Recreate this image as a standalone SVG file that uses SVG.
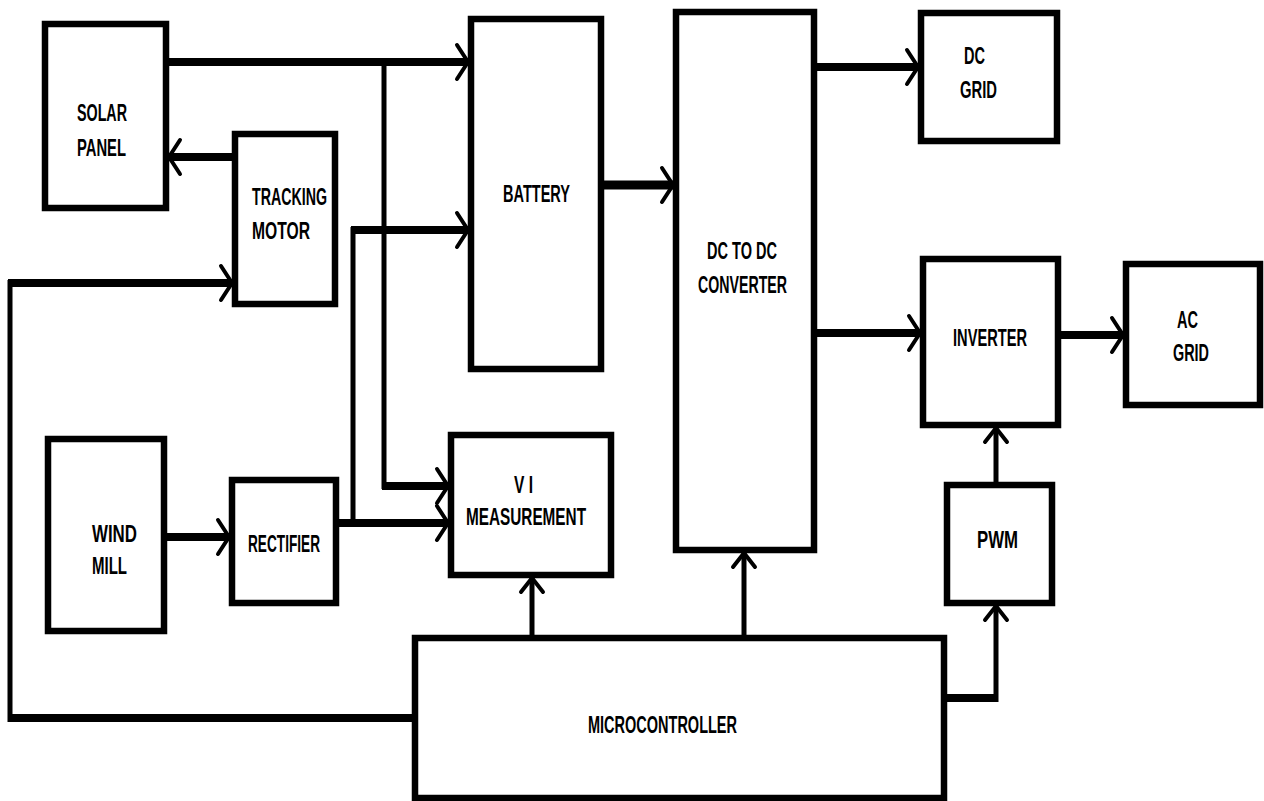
<svg xmlns="http://www.w3.org/2000/svg" width="1264" height="801" viewBox="0 0 1264 801">
<style>
.box{fill:#fff;stroke:#000;stroke-width:6.5}
.w{fill:none;stroke:#000;stroke-linecap:butt}
.t8{stroke-width:8}
.t5{stroke-width:5}
.lbl{font-family:"Liberation Sans",Arial,sans-serif;font-weight:bold;font-size:24px;fill:#000}
</style>
<defs>
<marker id="ah" markerUnits="userSpaceOnUse" orient="auto" markerWidth="40" markerHeight="40" refX="0" refY="0" viewBox="-20 -20 40 40" overflow="visible">
<path d="M-11,-17 L0,0 L-11,17" fill="none" stroke="#000" stroke-width="4" stroke-linecap="round" stroke-linejoin="miter"/>
</marker>
<marker id="av" markerUnits="userSpaceOnUse" orient="auto" markerWidth="40" markerHeight="40" refX="0" refY="0" viewBox="-20 -20 40 40" overflow="visible">
<path d="M-14,-11 L0,0 L-14,11" fill="none" stroke="#000" stroke-width="4" stroke-linecap="round" stroke-linejoin="miter"/>
</marker>
</defs>
<rect width="1264" height="801" fill="#fff"/>
<g id="connectors">
<line class="w t8" x1="169" y1="62" x2="468" y2="62" marker-end="url(#ah)"/>
<line class="w t8" x1="232" y1="157" x2="169" y2="157" marker-end="url(#ah)"/>
<line class="w t5" x1="384" y1="62" x2="384" y2="489"/>
<line class="w t8" x1="382" y1="486" x2="448" y2="486" marker-end="url(#ah)"/>
<line class="w t8" x1="339" y1="523" x2="448" y2="523" marker-end="url(#ah)"/>
<line class="w t5" x1="353" y1="523" x2="353" y2="227"/>
<line class="w t8" x1="351" y1="230" x2="468" y2="230" marker-end="url(#ah)"/>
<line class="w t8" x1="412" y1="718" x2="8" y2="718"/>
<line class="w t5" x1="10" y1="722" x2="10" y2="280"/>
<line class="w t8" x1="8" y1="283" x2="232" y2="283" marker-end="url(#ah)"/>
<line class="w t8" x1="167" y1="537" x2="229" y2="537" marker-end="url(#ah)"/>
<line class="w" stroke-width="9" x1="604" y1="185" x2="673" y2="185" marker-end="url(#ah)"/>
<line class="w t8" x1="817" y1="67" x2="918" y2="67" marker-end="url(#ah)"/>
<line class="w t8" x1="817" y1="333" x2="920" y2="333" marker-end="url(#ah)"/>
<line class="w t8" x1="1061" y1="335" x2="1123" y2="335" marker-end="url(#ah)"/>
<line class="w t5" x1="996" y1="482" x2="996" y2="428" marker-end="url(#av)"/>
<line class="w t8" x1="947" y1="698" x2="998" y2="698"/>
<line class="w t5" x1="996" y1="702" x2="996" y2="606" marker-end="url(#av)"/>
<line class="w t5" x1="532" y1="635" x2="532" y2="578" marker-end="url(#av)"/>
<line class="w t5" x1="744" y1="635" x2="744" y2="553" marker-end="url(#av)"/>
</g>
<g id="solar-panel">
<rect class="box" x="45" y="24" width="121" height="184"/>
<text class="lbl" x="77" y="121" textLength="50" lengthAdjust="spacingAndGlyphs">SOLAR</text>
<text class="lbl" x="77" y="156" textLength="49" lengthAdjust="spacingAndGlyphs">PANEL</text>
</g>
<g id="tracking-motor">
<rect class="box" x="235" y="134" width="100" height="170"/>
<text class="lbl" x="252" y="205" textLength="75" lengthAdjust="spacingAndGlyphs">TRACKING</text>
<text class="lbl" x="252" y="239" textLength="58" lengthAdjust="spacingAndGlyphs">MOTOR</text>
</g>
<g id="battery">
<rect class="box" x="471" y="19" width="130" height="350"/>
<text class="lbl" x="503" y="202" textLength="67" lengthAdjust="spacingAndGlyphs">BATTERY</text>
</g>
<g id="vi-measurement">
<rect class="box" x="451" y="435" width="160" height="140"/>
<text class="lbl" x="514" y="493" textLength="19" lengthAdjust="spacingAndGlyphs">V I</text>
<text class="lbl" x="466" y="525" textLength="120" lengthAdjust="spacingAndGlyphs">MEASUREMENT</text>
</g>
<g id="dc-dc-converter">
<rect class="box" x="676" y="12" width="138" height="538"/>
<text class="lbl" x="707" y="259" textLength="70" lengthAdjust="spacingAndGlyphs">DC TO DC</text>
<text class="lbl" x="698" y="293" textLength="89" lengthAdjust="spacingAndGlyphs">CONVERTER</text>
</g>
<g id="dc-grid">
<rect class="box" x="921" y="13" width="136" height="128"/>
<text class="lbl" x="964" y="64" textLength="21" lengthAdjust="spacingAndGlyphs">DC</text>
<text class="lbl" x="960" y="98" textLength="37" lengthAdjust="spacingAndGlyphs">GRID</text>
</g>
<g id="inverter">
<rect class="box" x="923" y="259" width="135" height="166"/>
<text class="lbl" x="953" y="346" textLength="74" lengthAdjust="spacingAndGlyphs">INVERTER</text>
</g>
<g id="ac-grid">
<rect class="box" x="1126" y="264" width="134" height="141"/>
<text class="lbl" x="1177" y="328" textLength="21" lengthAdjust="spacingAndGlyphs">AC</text>
<text class="lbl" x="1173" y="361" textLength="36" lengthAdjust="spacingAndGlyphs">GRID</text>
</g>
<g id="pwm">
<rect class="box" x="947" y="485" width="105" height="118"/>
<text class="lbl" x="977" y="548" textLength="41" lengthAdjust="spacingAndGlyphs">PWM</text>
</g>
<g id="wind-mill">
<rect class="box" x="48" y="439" width="116" height="192"/>
<text class="lbl" x="92" y="542" textLength="45" lengthAdjust="spacingAndGlyphs">WIND</text>
<text class="lbl" x="92" y="574" textLength="35" lengthAdjust="spacingAndGlyphs">MILL</text>
</g>
<g id="rectifier">
<rect class="box" x="232" y="480" width="104" height="123"/>
<text class="lbl" x="248" y="552" textLength="72" lengthAdjust="spacingAndGlyphs">RECTIFIER</text>
</g>
<g id="microcontroller">
<rect class="box" x="415" y="638" width="529" height="160"/>
<text class="lbl" x="588" y="733" textLength="149" lengthAdjust="spacingAndGlyphs">MICROCONTROLLER</text>
</g>
</svg>
